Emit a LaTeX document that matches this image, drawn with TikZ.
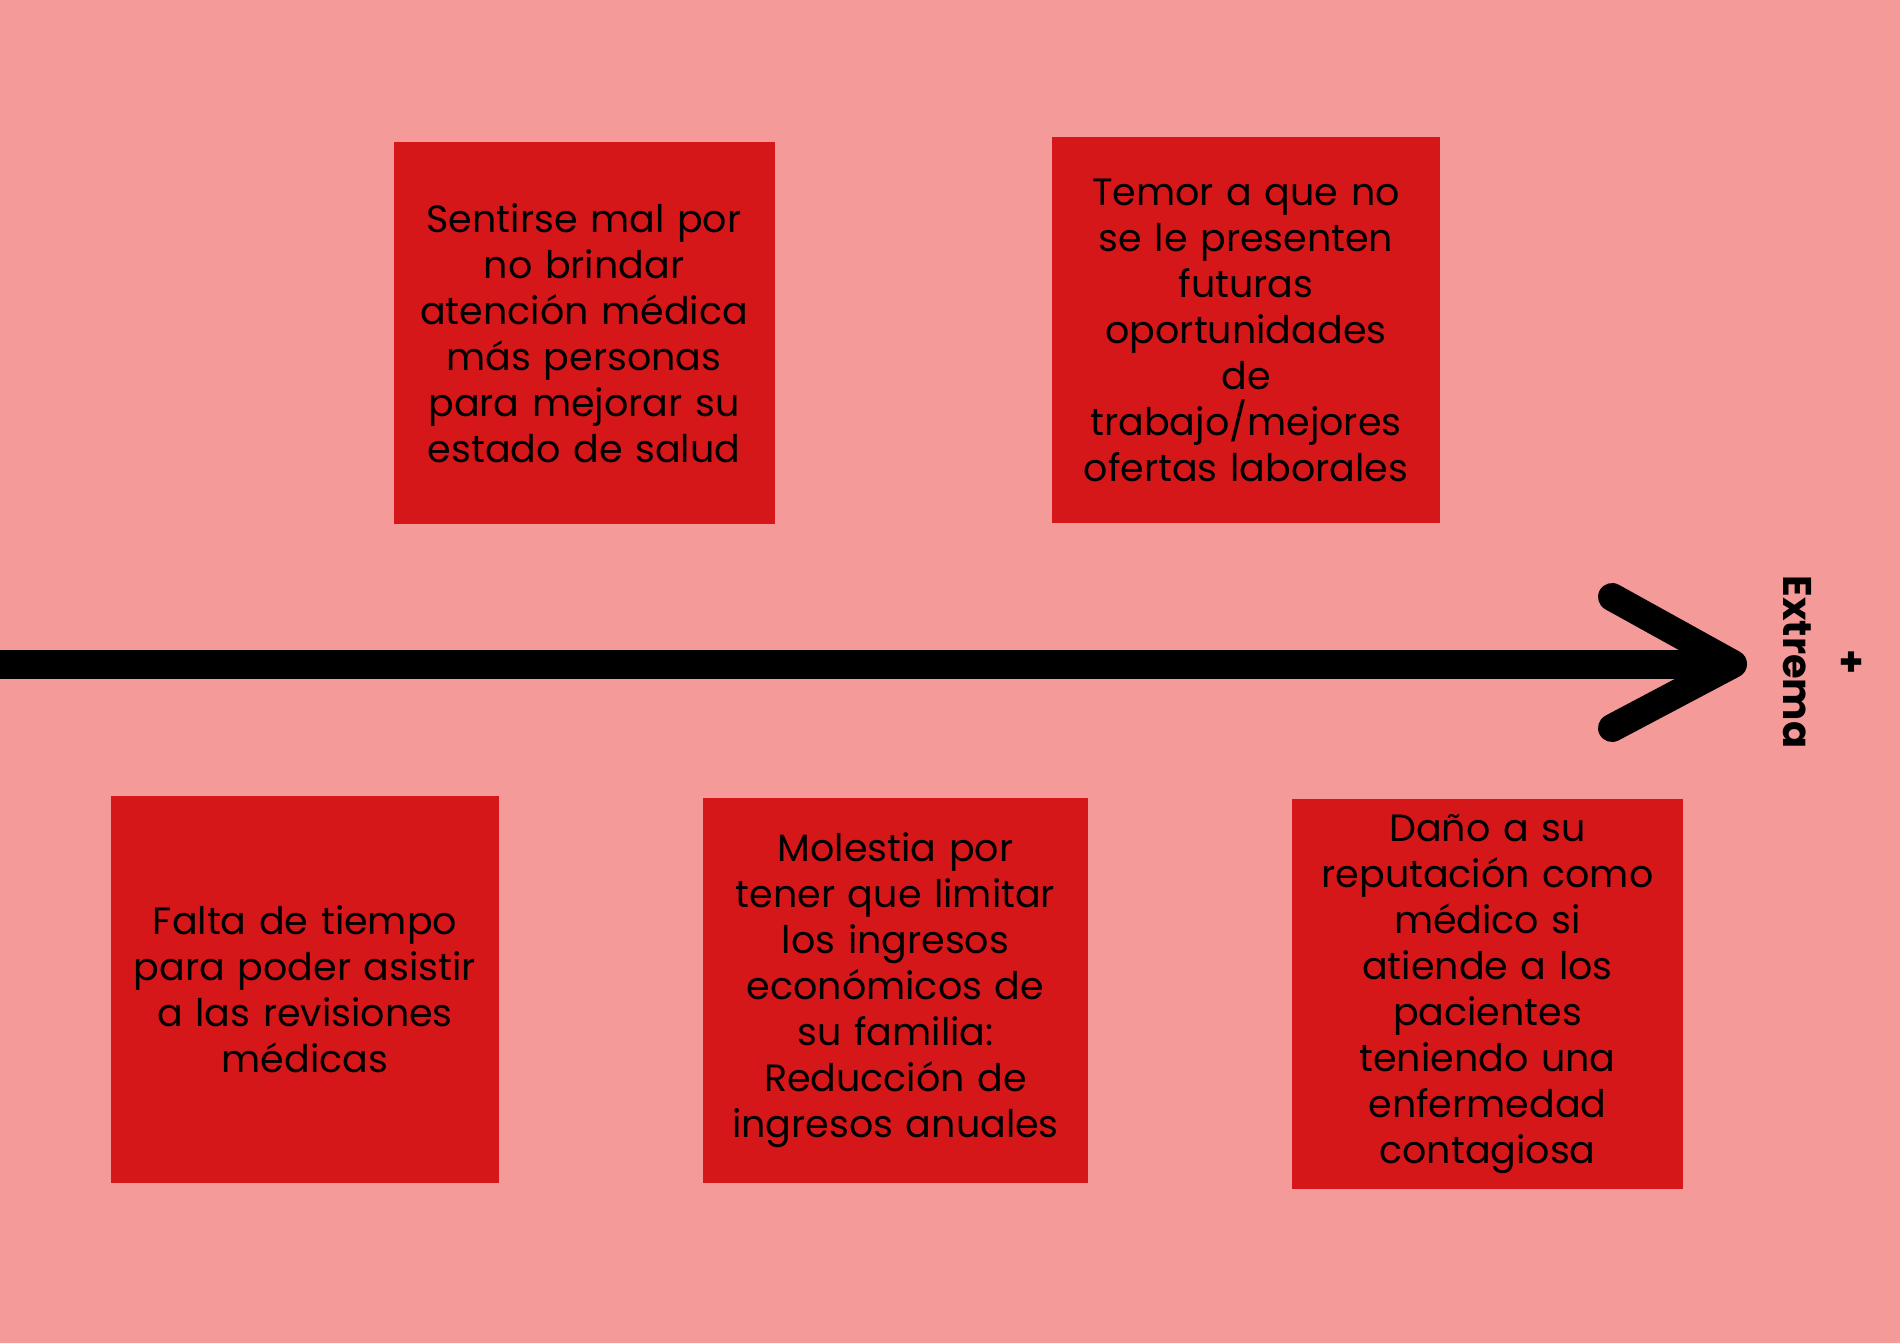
\documentclass[tikz,border=0pt]{standalone}
\usepackage{fontspec}
\setmainfont{Poppins}
\usepackage{tikz}
\usetikzlibrary{positioning,calc}
\definecolor{bgpink}{RGB}{244,155,154}
\definecolor{boxred}{RGB}{213,23,25}

\begin{document}
\begin{tikzpicture}[
  x=1pt, y=-1pt,
  card/.style={fill=boxred, rectangle, inner sep=0pt, align=center, text width=#1-16pt, minimum width=#1, font=\fontsize{38}{46}\selectfont},
  axis/.style={line width=29pt, line cap=butt},
  tip/.style={line width=28pt, line cap=round, line join=round},
]
  \fill[bgpink] (0,0) rectangle (1900,1343);
  \useasboundingbox (0,0) rectangle (1900,1343);

  % upper row
  \node[card=381pt, minimum height=381pt] (malestar) at (584,333) {Sentirse mal por\\no brindar\\atención médica\\más personas\\para mejorar su\\estado de salud};
  \node[card=388pt, minimum height=386pt] (temor) at (1246,330) {Temor a que no\\se le presenten\\futuras\\oportunidades\\de\\trabajo/mejores\\ofertas laborales};

  % lower row
  \node[card=388pt, minimum height=387pt] (tiempo) at (305,989.5) {Falta de tiempo\\para poder asistir\\a las revisiones\\médicas};
  \node[card=385pt, minimum height=385pt] (ingresos) at (895.5,990.5) {Molestia por\\tener que limitar\\los ingresos\\económicos de\\su familia:\\Reducción de\\ingresos anuales};
  \node[card=391pt, minimum height=390pt] (reputacion) at (1487.5,994) {Daño a su\\reputación como\\médico si\\atiende a los\\pacientes\\teniendo una\\enfermedad\\contagiosa};

  % axis
  \coordinate (axisstart) at (0,664);
  \coordinate (axisend) at (1733,664);
  \coordinate (armtop) at (1612,597);
  \coordinate (armbot) at (1612,728);
  \draw[axis] (axisstart) -- (axisend);
  \draw[tip] (armtop) -- (axisend) -- (armbot);

  \node[rotate=-90, align=center, font=\fontsize{40}{54}\selectfont\bfseries] (extrema) at (1822,662) {+\\Extrema};
\end{tikzpicture}
\end{document}
